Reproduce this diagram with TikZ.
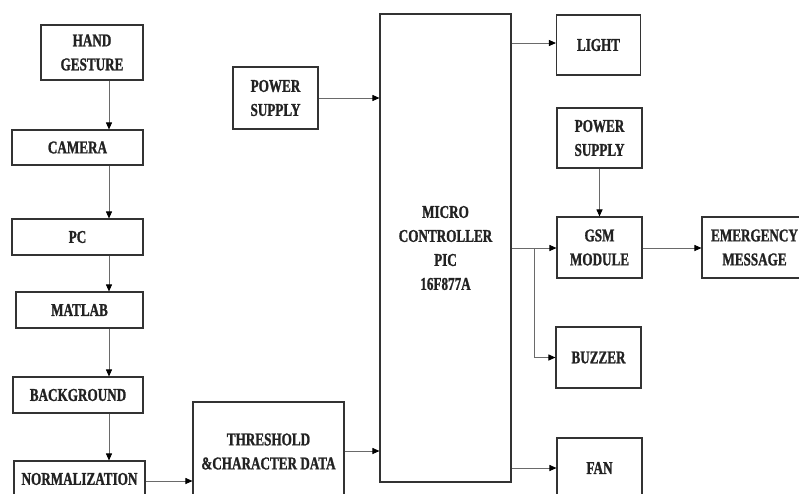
\documentclass[tikz,border=0pt]{standalone}
\usepackage{fontspec}
\setmainfont{Liberation Serif}[FakeStretch=0.73, BoldFeatures={FakeBold=1.2}]
\usetikzlibrary{arrows.meta}
\definecolor{boxc}{HTML}{333333}
\definecolor{linec}{HTML}{6A6A6A}
\definecolor{txtc}{HTML}{222222}
\tikzset{
  blk/.style={draw=boxc, line width=1.1pt, inner sep=0pt, align=center,
    text=txtc, font=\fontsize{18}{24}\selectfont\bfseries},
  arr/.style={draw=linec, line width=0.9pt, -{Triangle[length=7pt,width=6pt,color=black]}},
  ln/.style={draw=linec, line width=0.9pt}
}
\begin{document}
\begin{tikzpicture}[x=1pt,y=-1pt]
\useasboundingbox (0,0) rectangle (799,493);
\clip (0,0) rectangle (799,493);
% left column
\node[blk, minimum width=102pt, minimum height=55pt] (hand) at (92,52.5) {HAND\\GESTURE};
\node[blk, minimum width=131pt, minimum height=35pt] (camera) at (77.5,147.5) {CAMERA};
\node[blk, minimum width=131pt, minimum height=36pt] (pc) at (77.5,237) {PC};
\node[blk, minimum width=127pt, minimum height=36pt] (matlab) at (79.5,310) {MATLAB};
\node[blk, minimum width=130pt, minimum height=36pt] (background) at (78,395) {BACKGROUND};
\node[blk, minimum width=131pt, minimum height=36pt] (normalization) at (79.5,479) {NORMALIZATION};
% middle
\node[blk, minimum width=151pt, minimum height=99pt] (threshold) at (268.5,451.5) {THRESHOLD\\\&CHARACTER DATA};
\node[blk, minimum width=85pt, minimum height=62pt] (ps1) at (275.5,98) {POWER\\SUPPLY};
\node[blk, minimum width=131pt, minimum height=468pt] (mc) at (445.5,248) {MICRO\\CONTROLLER\\PIC\\16F877A};
% right
\node[blk, minimum width=84pt, minimum height=60pt] (light) at (598.5,45) {LIGHT};
\node[blk, minimum width=85pt, minimum height=60pt] (ps2) at (599.5,138) {POWER\\SUPPLY};
\node[blk, minimum width=85pt, minimum height=61pt] (gsm) at (599.5,247.5) {GSM\\MODULE};
\node[blk, minimum width=85pt, minimum height=61pt] (buzzer) at (598.5,357.5) {BUZZER};
\node[blk, minimum width=85pt, minimum height=60pt] (fan) at (599.5,468) {FAN};
\node[blk, minimum width=112pt, minimum height=61pt] (emergency) at (758,247.5) {EMERGENCY\hspace*{7pt}\\MESSAGE\hspace*{7pt}};
% helper coordinates
\coordinate (colx) at (109,0);
\coordinate (brx) at (534,248);
% left column arrows
\draw[arr] (hand.south -| colx) -- (camera.north -| colx);
\draw[arr] (camera.south -| colx) -- (pc.north -| colx);
\draw[arr] (pc.south -| colx) -- (matlab.north -| colx);
\draw[arr] (matlab.south -| colx) -- (background.north -| colx);
\draw[arr] (background.south -| colx) -- (normalization.north -| colx);
\draw[arr] (normalization.east |- 0,481) -- (threshold.west |- 0,481);
% into MC
\draw[arr] (threshold.east |- 0,451) -- (mc.west |- 0,451);
\draw[arr] (ps1.east) -- (mc.west |- ps1.east);
% out of MC
\draw[arr] (mc.east |- 0,43) -- (light.west |- 0,43);
\draw[arr] (mc.east |- brx) -- (gsm.west |- brx);
\draw[ln] (brx) -- (brx |- buzzer.west);
\draw[arr] (brx |- buzzer.west) -- (buzzer.west);
\draw[arr] (mc.east |- fan.west) -- (fan.west);
\draw[arr] (ps2.south) -- (gsm.north);
\draw[arr] (gsm.east |- brx) -- (emergency.west |- brx);
\end{tikzpicture}
\end{document}
